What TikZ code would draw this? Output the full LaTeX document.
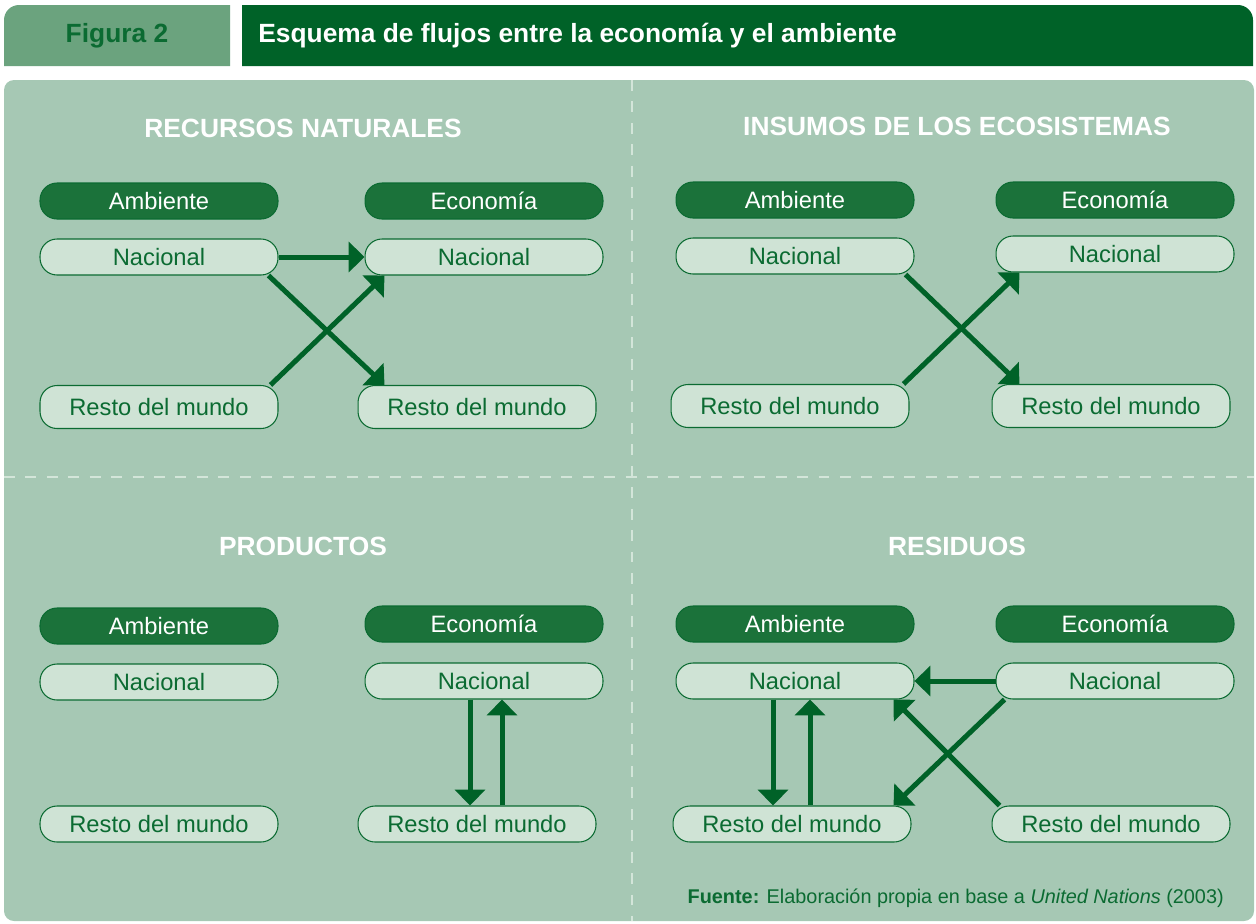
\documentclass[tikz,border=0pt]{standalone}
\usepackage{fontspec}
\setmainfont{Liberation Sans}
\usetikzlibrary{arrows.meta,calc}
\definecolor{verdeosc}{HTML}{006228}
\definecolor{verdetab}{HTML}{6BA37E}
\definecolor{verdefondo}{HTML}{A6C8B4}
\definecolor{verdecaja}{HTML}{1B723A}
\definecolor{verdeclaro}{HTML}{CFE3D5}
\definecolor{verdetexto}{HTML}{0B6B32}
\definecolor{rayas}{HTML}{D3E5D9}
\begin{document}
\begin{tikzpicture}[x=0.02cm,y=-0.02cm,
	titulo/.style={text=white,font=\fontsize{15}{18}\selectfont\bfseries},
	cabeza/.style={draw=verdetexto,line width=0.6pt,fill=verdecaja,text=white,rounded corners=0.34cm,minimum width=4.76cm,minimum height=0.72cm,font=\fontsize{13.5}{16}\selectfont},
	caja/.style={draw=verdetexto,line width=0.6pt,fill=verdeclaro,text=verdetexto,rounded corners=0.34cm,minimum width=4.76cm,minimum height=0.72cm,font=\fontsize{13.5}{16}\selectfont},
	alta/.style={minimum height=0.86cm},
	flujo/.style={draw=verdeosc,line width=2.85pt,-{Triangle[length=9pt,width=17pt]}},
	division/.style={draw=rayas,line width=1.2pt,dash pattern=on 6.2pt off 6pt}]
	%\draw[step=1cm,very thin,color=gray] (0,0) grid (25.12,-18.46);
	\useasboundingbox (0,0) rectangle (1256,923);
	\fill[verdetab] (4,66) -- (4,20) arc[start angle=180,end angle=90,radius=0.3cm] -- (230,5) -- (230,66) -- cycle;
	\fill[verdeosc] (242,66) -- (242,5) -- (1238,5) arc[start angle=90,end angle=0,radius=0.3cm] -- (1253,66) -- cycle;
	\node[text=verdetexto,font=\fontsize{15}{18}\selectfont\bfseries] (fig) at (117,36) {Figura 2};
	\node[titulo,anchor=west,inner sep=0pt] (enc) at (258,36) {Esquema de flujos entre la economía y el ambiente};
	\fill[verdefondo,rounded corners=0.2cm] (4,80) rectangle (1254,921);
	\draw[division] (632,80) -- (632,921);
	\draw[division] (4,477) -- (1254,477);
	% recursos naturales
	\node[titulo] (tit1) at (303,128) {RECURSOS NATURALES};
	\node[cabeza] (amb1) at (159,201) {Ambiente};
	\node[cabeza] (eco1) at (484,201) {Economía};
	\node[caja] (nacA1) at (159,257) {Nacional};
	\node[caja] (nacE1) at (484,257) {Nacional};
	\node[caja,alta] (resA1) at (159,407) {Resto del mundo};
	\node[caja,alta] (resE1) at (477,407) {Resto del mundo};
	\draw[flujo] (nacA1) -- (nacE1);
	\draw[flujo] ($(nacA1.south east)+(-10,0)$) -- ($(resE1.north west)+(27,0)$);
	\draw[flujo] ($(resA1.north east)+(-8,0)$) -- ($(nacE1.south west)+(20,0)$);
	% insumos de los ecosistemas
	\node[titulo] (tit2) at (957,126) {INSUMOS DE LOS ECOSISTEMAS};
	\node[cabeza] (amb2) at (795,200) {Ambiente};
	\node[cabeza] (eco2) at (1115,200) {Economía};
	\node[caja] (nacA2) at (795,256) {Nacional};
	\node[caja] (nacE2) at (1115,254) {Nacional};
	\node[caja,alta] (resA2) at (790,406) {Resto del mundo};
	\node[caja,alta] (resE2) at (1111,406) {Resto del mundo};
	\draw[flujo] ($(nacA2.south east)+(-9,0)$) -- ($(resE2.north west)+(28,0)$);
	\draw[flujo] ($(resA2.north east)+(-6,0)$) -- ($(nacE2.south west)+(24,0)$);
	% productos
	\node[titulo] (tit3) at (303,546) {PRODUCTOS};
	\node[cabeza] (amb3) at (159,626) {Ambiente};
	\node[cabeza] (eco3) at (484,624) {Economía};
	\node[caja] (nacA3) at (159,682) {Nacional};
	\node[caja] (nacE3) at (484,681) {Nacional};
	\node[caja] (resA3) at (159,824) {Resto del mundo};
	\node[caja] (resE3) at (477,824) {Resto del mundo};
	\draw[flujo] ($(nacE3.south)+(-14,0)$) -- ($(resE3.north)+(-7,0)$);
	\draw[flujo] ($(resE3.north)+(25,0)$) -- ($(nacE3.south)+(18,0)$);
	% residuos
	\node[titulo] (tit4) at (957,546) {RESIDUOS};
	\node[cabeza] (amb4) at (795,624) {Ambiente};
	\node[cabeza] (eco4) at (1115,624) {Economía};
	\node[caja] (nacA4) at (795,681) {Nacional};
	\node[caja] (nacE4) at (1115,681) {Nacional};
	\node[caja] (resA4) at (792,824) {Resto del mundo};
	\node[caja] (resE4) at (1111,824) {Resto del mundo};
	\draw[flujo] (nacE4) -- (nacA4);
	\draw[flujo] ($(nacE4.south west)+(9,0)$) -- ($(resA4.north east)+(-18,0)$);
	\draw[flujo] ($(resE4.north west)+(8,0)$) -- ($(nacA4.south east)+(-21,0)$);
	\draw[flujo] ($(nacA4.south)+(-22,0)$) -- ($(resA4.north)+(-19,0)$);
	\draw[flujo] ($(resA4.north)+(18,0)$) -- ($(nacA4.south)+(15,0)$);
	\node[anchor=east,inner sep=0pt,text=verdetexto,font=\fontsize{11.3}{13}\selectfont] (fuente) at (1224,898) {\textbf{Fuente:} Elaboración propia en base a \textit{United Nations} (2003)};
\end{tikzpicture}
\end{document}
